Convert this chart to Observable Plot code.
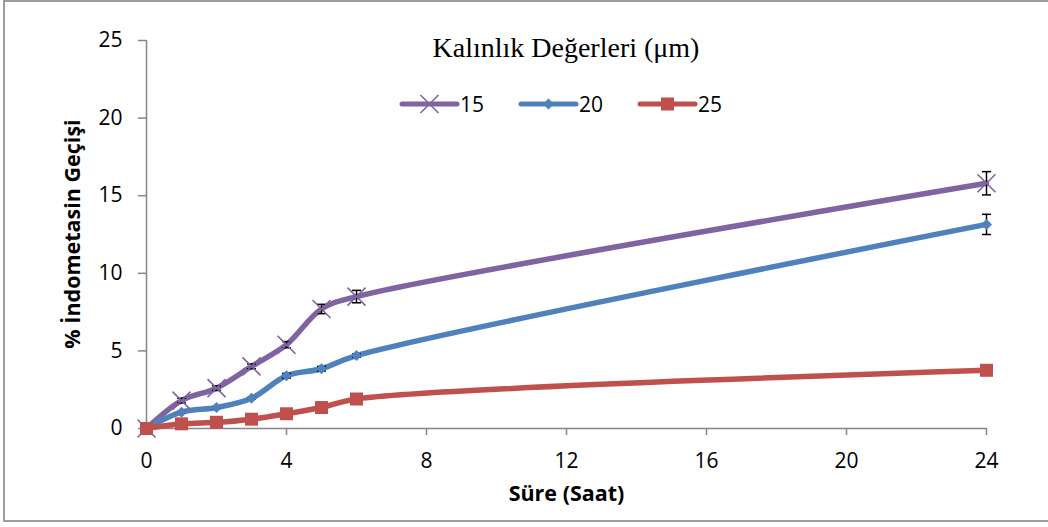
<!DOCTYPE html>
<html>
<head>
<meta charset="utf-8">
<script src="https://cdn.jsdelivr.net/npm/d3@7"></script>
<script src="https://cdn.jsdelivr.net/npm/@observablehq/plot@0.6"></script>
<style>
  html, body { margin: 0; padding: 0; background: #fff; }
  #wrap { position: relative; width: 1048px; height: 527px; overflow: hidden; }
  #frame { position: absolute; left: 3px; top: 0px; width: 1100px; height: 522px; border: 2px solid #9d9d9d; box-sizing: border-box; pointer-events: none; }
  #overlay { position: absolute; left: 0; top: 0; }
  #chart svg { display: block; }
</style>
</head>
<body>
<div id="wrap">
  <div id="chart"></div>
  <svg id="overlay" width="1048" height="527"></svg>
  <div id="frame"></div>
</div>
<script>
// ---- data ----
const hours = [0, 1, 2, 3, 4, 5, 6, 24];
const seriesNames = ["15", "20", "25"];
const values15 = [0, 1.8, 2.6, 4.0, 5.4, 7.7, 8.5, 15.8];
const values20 = [0, 1.05, 1.35, 1.95, 3.4, 3.85, 4.7, 13.15];
const values25 = [0, 0.3, 0.4, 0.6, 0.95, 1.35, 1.9, 3.75];
const errors15 = [0, 0.15, 0.15, 0.15, 0.2, 0.3, 0.4, 0.75];
const errors20 = [0, 0.05, 0.05, 0.05, 0.15, 0.15, 0.1, 0.65];
const errors25 = [0, 0, 0, 0, 0, 0, 0, 0];
const seriesColors = ["#8064A2", "#4F81BD", "#C0504D"];
const xTicks = [0, 4, 8, 12, 16, 20, 24];
const yTicks = [0, 5, 10, 15, 20, 25];
const titleText = "Kalınlık Değerleri (μm)";
const xTitle = "Süre (Saat)";
const yTitle = "% İndometasin Geçişi";

// ---- symbols ----
const symTimes = { draw(ctx, size) { const r = Math.sqrt(size / Math.PI); ctx.moveTo(-r, -r); ctx.lineTo(r, r); ctx.moveTo(-r, r); ctx.lineTo(r, -r); } };
const symDiamond = { draw(ctx, size) { const r = Math.sqrt(size / Math.PI); ctx.moveTo(0, -r); ctx.lineTo(r, 0); ctx.lineTo(0, r); ctx.lineTo(-r, 0); ctx.closePath(); } };
const symSquare = { draw(ctx, size) { const r = Math.sqrt(size / Math.PI); ctx.rect(-r, -r, 2 * r, 2 * r); } };
const symCap = { draw(ctx, size) { const r = Math.sqrt(size / Math.PI); ctx.moveTo(-r, 0); ctx.lineTo(r, 0); } };

const valueSets = [values15, values20, values25];
const errorSets = [errors15, errors20, errors25];
const data = seriesNames.flatMap((s, k) => hours.map((h, i) => ({
  series: s, hour: h, value: valueSets[k][i],
  lo: valueSets[k][i] - errorSets[k][i], hi: valueSets[k][i] + errorSets[k][i]
})));
const bySeries = s => data.filter(d => d.series === s);
const errData = data.filter(d => d.hi - d.lo > 0);

const axisColor = "#868686";
const plot = Plot.plot({
  width: 1048, height: 527,
  marginLeft: 146, marginRight: 62, marginTop: 40, marginBottom: 99,
  x: { domain: [0, 24] },
  y: { domain: [0, 25] },
  style: { fontFamily: "'Open Sans', sans-serif", fontSize: "21px", color: "#000", background: "transparent" },
  marks: [
    Plot.ruleX([0], { stroke: axisColor, strokeWidth: 1.5 }),
    Plot.ruleY([0], { stroke: axisColor, strokeWidth: 1.5 }),
    Plot.axisX({ ticks: xTicks, tickSize: 7, tickPadding: 18, stroke: axisColor, strokeWidth: 1.5, fill: "#000", label: null, fontSize: 21 }),
    Plot.axisY({ ticks: yTicks, tickSize: 8, tickPadding: 16, stroke: axisColor, strokeWidth: 1.5, fill: "#000", label: null, fontSize: 21 }),
    Plot.text([xTitle], { frameAnchor: "bottom", dy: 72, fontWeight: "bold", fontSize: 21.5, fill: "#000" }),
    ...seriesNames.map((s, k) => Plot.line(bySeries(s), { x: "hour", y: "value", stroke: seriesColors[k], strokeWidth: 5.5, curve: "catmull-rom" })),
    Plot.ruleX(errData, { x: "hour", y1: "lo", y2: "hi", stroke: "#000", strokeWidth: 1.5 }),
    Plot.dot(errData, { x: "hour", y: "lo", symbol: symCap, r: 4.5, stroke: "#000", strokeWidth: 1.5 }),
    Plot.dot(errData, { x: "hour", y: "hi", symbol: symCap, r: 4.5, stroke: "#000", strokeWidth: 1.5 }),
    Plot.dot(bySeries("15"), { x: "hour", y: "value", symbol: symTimes, r: 9, stroke: seriesColors[0], strokeWidth: 1.6, fill: "none" }),
    Plot.dot(bySeries("20"), { x: "hour", y: "value", symbol: symDiamond, r: 5.5, fill: seriesColors[1], stroke: "none" }),
    Plot.dot(bySeries("25"), { x: "hour", y: "value", symbol: symSquare, r: 6.5, fill: seriesColors[2], stroke: "none" })
  ]
});
document.getElementById("chart").appendChild(plot);

// ---- titles + legend overlay ----
const ov = d3.select("#overlay");
ov.append("text").attr("transform", "translate(72,234) rotate(-90)").attr("text-anchor", "middle").attr("dy", "0.36em")
  .attr("font-family", "'Open Sans', sans-serif").attr("font-weight", "bold").attr("font-size", 21.5).attr("fill", "#000")
  .text(yTitle);
ov.append("text").attr("x", 566).attr("y", 57).attr("text-anchor", "middle")
  .attr("font-family", "'Liberation Serif', 'Times New Roman', serif").attr("font-size", 28).attr("fill", "#000")
  .text(titleText);
const legendSyms = [symTimes, symDiamond, symSquare];
const legendR = [9, 5.5, 6.5];
seriesNames.forEach((s, k) => {
  const x0 = 402 + k * 119, y0 = 104;
  const g = ov.append("g");
  g.append("line").attr("x1", x0).attr("x2", x0 + 55).attr("y1", y0).attr("y2", y0)
    .attr("stroke", seriesColors[k]).attr("stroke-width", 5).attr("stroke-linecap", "round");
  const path = d3.symbol(legendSyms[k], Math.PI * legendR[k] * legendR[k])();
  g.append("path").attr("d", path).attr("transform", `translate(${x0 + 27.5},${y0})`)
    .attr("fill", k === 0 ? "none" : seriesColors[k]).attr("stroke", k === 0 ? seriesColors[k] : "none").attr("stroke-width", 1.6);
  g.append("text").attr("x", x0 + 58).attr("y", y0).attr("dy", "0.36em")
    .attr("font-family", "'Open Sans', sans-serif").attr("font-size", 21).attr("fill", "#000").text(s);
});
</script>
</body>
</html>
